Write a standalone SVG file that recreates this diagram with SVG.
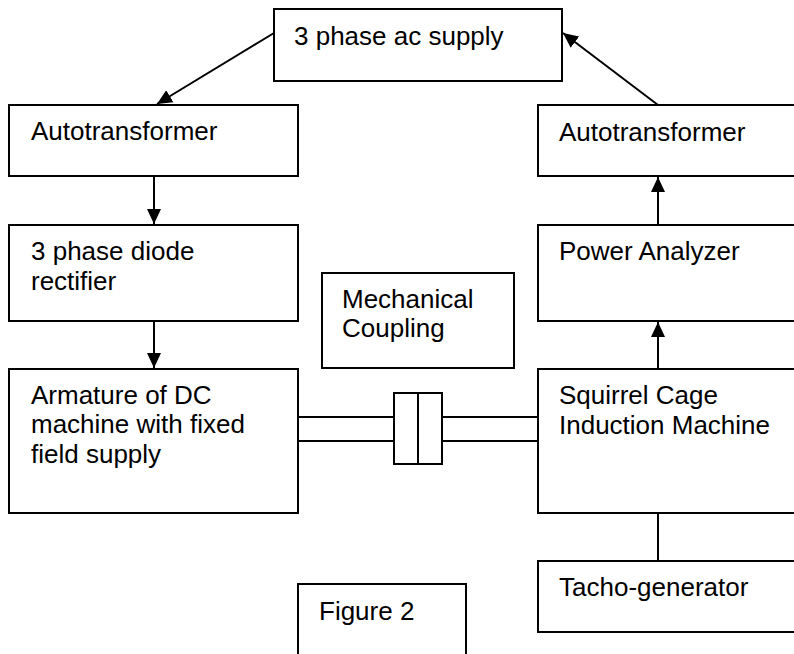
<svg xmlns="http://www.w3.org/2000/svg" width="794" height="654" viewBox="0 0 794 654">
<style>
.box{fill:#fff;stroke:#000;stroke-width:2}
.t{font-family:"Liberation Sans",Arial,sans-serif;font-size:26px;fill:#000}
.c{stroke:#000;stroke-width:2;fill:none}
</style>
<defs>
<marker id="ah" markerUnits="userSpaceOnUse" markerWidth="16" markerHeight="16" viewBox="0 0 16 16" refX="15" refY="8" orient="auto">
<path d="M0,1 L15,8 L0,15 Z" fill="#000"/>
</marker>
</defs>
<rect width="794" height="654" fill="#fff"/>
<g id="supply"><rect class="box" x="274" y="9" width="288" height="72"/><text class="t" x="294" y="44.5">3 phase ac supply</text></g>
<g id="autoL"><rect class="box" x="9" y="105" width="289" height="71"/><text class="t" x="31" y="140">Autotransformer</text></g>
<g id="autoR"><rect class="box" x="538" y="105" width="270" height="71"/><text class="t" x="559" y="140.5">Autotransformer</text></g>
<g id="rectifier"><rect class="box" x="9" y="225" width="289" height="96"/><text class="t" x="31" y="260">3 phase diode</text><text class="t" x="31" y="289.5">rectifier</text></g>
<g id="power"><rect class="box" x="538" y="225" width="270" height="96"/><text class="t" x="559" y="260">Power Analyzer</text></g>
<g id="coupling"><rect class="box" x="322" y="273" width="192" height="95"/><text class="t" x="342" y="307.5">Mechanical</text><text class="t" x="342" y="337">Coupling</text></g>
<g id="armature"><rect class="box" x="9" y="369" width="289" height="144"/><text class="t" x="31" y="403.5">Armature of DC</text><text class="t" x="31" y="433">machine with fixed</text><text class="t" x="31" y="462.5">field supply</text></g>
<g id="squirrel"><rect class="box" x="538" y="369" width="270" height="144"/><text class="t" x="559" y="404">Squirrel Cage</text><text class="t" x="559" y="433.5">Induction Machine</text></g>
<g id="tacho"><rect class="box" x="538" y="561" width="270" height="71"/><text class="t" x="559" y="596">Tacho-generator</text></g>
<g id="figure"><rect class="box" x="298" y="584" width="168" height="90"/><text class="t" x="319" y="620">Figure 2</text></g>
<g id="connectors">
<line class="c" x1="274" y1="33" x2="157" y2="104" marker-end="url(#ah)"/>
<line class="c" x1="658" y1="105" x2="563" y2="33" marker-end="url(#ah)"/>
<line class="c" x1="154" y1="176" x2="154" y2="224" marker-end="url(#ah)"/>
<line class="c" x1="154" y1="321" x2="154" y2="368" marker-end="url(#ah)"/>
<line class="c" x1="658" y1="369" x2="658" y2="322" marker-end="url(#ah)"/>
<line class="c" x1="658" y1="225" x2="658" y2="177" marker-end="url(#ah)"/>
<line class="c" x1="658" y1="513" x2="658" y2="561"/>
<line class="c" x1="298" y1="417" x2="394" y2="417"/>
<line class="c" x1="298" y1="441" x2="394" y2="441"/>
<line class="c" x1="442" y1="417" x2="538" y2="417"/>
<line class="c" x1="442" y1="441" x2="538" y2="441"/>
<rect class="c" x="394" y="393" width="48" height="71"/>
<line class="c" x1="418" y1="393" x2="418" y2="464"/>
</g>
</svg>
